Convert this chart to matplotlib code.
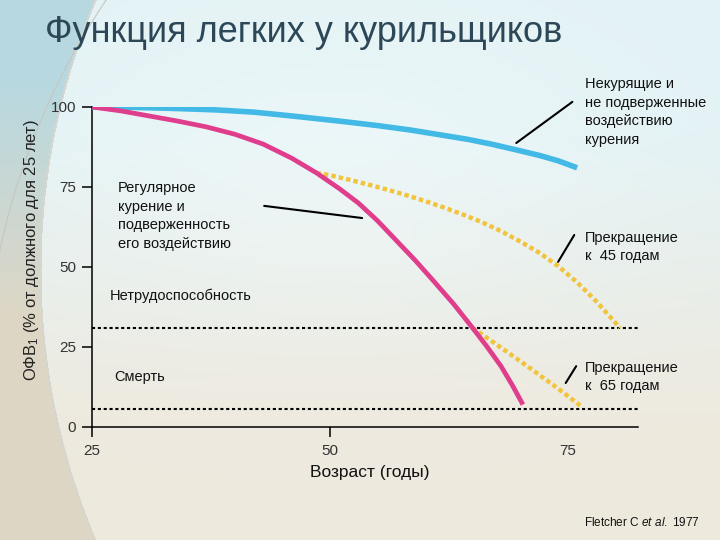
import numpy as np
import matplotlib.pyplot as plt

plt.rcParams['font.family'] = ['Liberation Sans', 'DejaVu Sans']
plt.rcParams['mathtext.fontset'] = 'custom'
plt.rcParams['mathtext.rm'] = 'Liberation Sans'
plt.rcParams['mathtext.it'] = 'Liberation Sans:italic'

# --- data (age in years, FEV1 in % of value at 25) ---
age_never = [25, 29, 33, 38, 42, 46, 51, 55, 58.5, 61.6, 64.5, 67, 69.6, 72, 74, 76]
fev_never = [100, 99.9, 99.6, 99.1, 98.4, 97.2, 95.6, 94.2, 92.8, 91.3, 89.9, 88.4,
             86.6, 84.9, 83.2, 81]

age_smoker = [25, 28, 31, 34, 37, 40, 43, 46, 48.6, 51, 53, 55, 57.4, 59, 60.8,
              63, 65, 66.5, 68, 69.2, 70.3]
fev_smoker = [100, 98.8, 97.2, 95.6, 93.8, 91.5, 88.4, 84, 79.4, 74.5, 70, 64.5,
              57, 52, 46, 38.5, 31, 25.2, 19, 13, 7]

age_stop45 = [48.6, 50, 52, 54, 56, 58, 60, 62, 64, 66, 68, 70, 72, 74, 76, 78, 80.5]
fev_stop45 = [79.4, 78.7, 77.3, 75.8, 74.2, 72.5, 70.6, 68.6, 66.4, 64, 61.2, 58,
              54.5, 50.3, 45.2, 39.3, 31]

age_stop65 = [65, 68, 71, 74, 76.5]
fev_stop65 = [31, 24.8, 18.5, 12, 6.3]

disability_level = 31
death_level = 5.6

x_ticks = [25, 50, 75]
y_ticks = [0, 25, 50, 75, 100]

W, H = 720, 540
fig = plt.figure(figsize=(7.2, 5.4), dpi=100)


def px(x, y):
    return x / W, 1 - y / H


# --- slide background ---
bg = fig.add_axes([0, 0, 1, 1])
yy, xx = np.mgrid[0:H, 0:W].astype(float)
top = np.array([0.89, 0.95, 0.96])
bottom = np.array([0.935, 0.915, 0.87])
t = np.clip((yy - 130) / 300, 0, 1)[..., None]
img = top * (1 - t) + bottom * t
# soft highlight near the top middle
glow = np.exp(-(((xx - 330) / 280) ** 2 + ((yy - 170) / 150) ** 2))[..., None]
img = img * (1 - 0.35 * glow) + 0.35 * glow * np.array([0.98, 1.0, 1.0])
# area outside the big arc on the left
r = np.hypot(xx - 730, yy - 270)
outside = (r > 690)[..., None]
s = np.clip((yy - 80) / 240, 0, 1)[..., None]
left_col = np.array([0.72, 0.85, 0.88]) * (1 - s) + np.array([0.87, 0.84, 0.77]) * s
img = np.where(outside, left_col, img)
edge = (np.abs(r - 690) < 1.0)[..., None]
img = np.where(edge, np.array([0.84, 0.84, 0.82]), img)
bg.imshow(np.clip(img, 0, 1), extent=[0, W, H, 0], aspect='auto')
# thin arc line at the top left
th = np.linspace(0, 2 * np.pi, 800)
bg.plot(700 + 716 * np.cos(th), 400 + 716 * np.sin(th), color='#c6c6c0', lw=0.8)
bg.set_xlim(0, W)
bg.set_ylim(H, 0)
bg.axis('off')

# --- chart ---
ax = fig.add_axes([92 / W, 1 - 427 / H, (638 - 92) / W, 320 / H])
ax.set_facecolor('none')
ax.set_xlim(25, 82.4)
ax.set_ylim(0, 100)

ax.plot(age_never, fev_never, color='#43b9e6', lw=4, solid_capstyle='butt', zorder=4)
ax.plot(age_smoker, fev_smoker, color='#e03d8d', lw=3.4, solid_capstyle='butt', zorder=5)
ax.plot(age_stop45, fev_stop45, color='#f2c43e', lw=3.2, ls=(0, (1, 0.7)), zorder=4)
ax.plot(age_stop65, fev_stop65, color='#f2c43e', lw=3.2, ls=(0, (1, 0.7)), zorder=4)

for lvl in (disability_level, death_level):
    ax.axhline(lvl, color='black', lw=1.5, ls=(0, (1.5, 1.3)), zorder=3)

for side in ('top', 'right'):
    ax.spines[side].set_visible(False)
ax.spines['left'].set_linewidth(1.1)
ax.spines['bottom'].set_linewidth(1.1)

ax.set_xticks(x_ticks)
ax.set_yticks(y_ticks)
ax.tick_params(axis='x', length=7.5, width=1.1, pad=5, labelsize=11, labelcolor='#333333')
ax.tick_params(axis='y', length=7.5, width=1.1, pad=4, labelsize=11, labelcolor='#333333')
ax.xaxis.get_major_ticks()[2].tick1line.set_visible(False)


# leader lines
def leader(p0, p1):
    ax.annotate('', xy=p1, xytext=p0, annotation_clip=False,
                arrowprops=dict(arrowstyle='-', color='black', lw=1.5,
                                shrinkA=0, shrinkB=0))


leader((69.6, 88.75), (75.5, 101.6))
leader((43.1, 69.1), (53.4, 65.3))
leader((74.0, 51.6), (75.7, 60.0))
leader((74.8, 13.75), (75.9, 19.0))

txt = dict(fontsize=10.5, color='#111111', ha='left', va='center', linespacing=1.45)
fig.text(*px(585, 112), 'Некурящие и\nне подверженные\nвоздействию\nкурения', **txt)
fig.text(*px(118, 216), 'Регулярное\nкурение и\nподверженность\nего воздействию', **txt)
fig.text(*px(585, 247), 'Прекращение\nк  45 годам', **txt)
fig.text(*px(585, 377), 'Прекращение\nк  65 годам', **txt)
fig.text(*px(110, 296), 'Нетрудоспособность', **txt)
fig.text(*px(114, 377), 'Смерть', **txt)

fig.text(*px(370, 473), 'Возраст (годы)', fontsize=12.5, color='#111111',
         ha='center', va='center')
fig.text(*px(32, 250), 'ОФВ$_1$ (% от должного для 25 лет)', fontsize=12,
         color='#222222', ha='center', va='center', rotation=90)
fig.text(*px(700, 522), 'Fletcher C $\\it{et\\ al.}$ 1977', fontsize=8.5,
         color='#111111', ha='right', va='center')

fig.text(*px(45, 33), 'Функция легких у курильщиков', fontsize=26,
         color='#2c4757', ha='left', va='center')

fig.savefig('out.png', dpi=100)
